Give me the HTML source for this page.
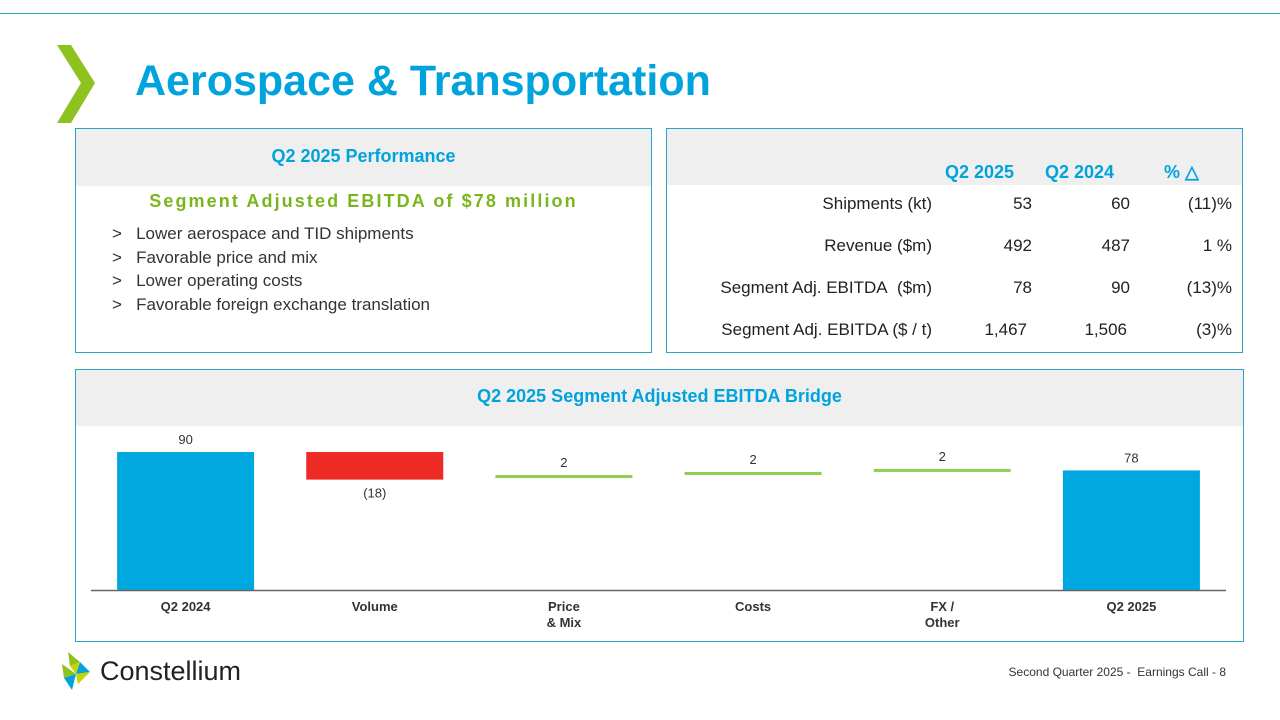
<!DOCTYPE html>
<html><head><meta charset="utf-8"><style>
body{margin:0;width:1280px;height:720px;position:relative;background:#fff;font-family:"Liberation Sans",sans-serif;overflow:hidden}
.a{position:absolute}
.panel{position:absolute;border:1px solid #2aa6c4;box-sizing:border-box}
.grey{position:absolute;background:#efefef}
.r{text-align:right;color:#222;font-size:17px}
.bl{font-size:17px;color:#333}
</style></head><body>
<div class="a" style="left:0;top:13px;width:1280px;height:1px;background:#2aa6c4"></div>
<svg class="a" style="left:55px;top:45px" width="45" height="80"><polygon points="2,0 16,0 40,38 16,78 2,78 26,38" fill="#8dc21f"/></svg>
<div class="a" style="left:135px;top:57px;font-size:43px;font-weight:bold;color:#00a3dc">Aerospace &amp; Transportation</div>

<div class="panel" style="left:75px;top:128px;width:577px;height:225px">
<div class="grey" style="left:0;top:0;width:575px;height:57px"></div>
<div class="a" style="left:0;width:575px;top:17px;text-align:center;font-size:18px;font-weight:bold;color:#00a3dc">Q2 2025 Performance</div>
<div class="a" style="left:0;width:575px;top:62px;text-align:center;font-size:18px;font-weight:bold;color:#7ab51d;letter-spacing:2.1px">Segment Adjusted EBITDA of $78 million</div>
<div class="a bl" style="left:36px;top:93px;line-height:23.7px">
<div>&gt;&nbsp;&nbsp; Lower aerospace and TID shipments</div>
<div>&gt;&nbsp;&nbsp; Favorable price and mix</div>
<div>&gt;&nbsp;&nbsp; Lower operating costs</div>
<div>&gt;&nbsp;&nbsp; Favorable foreign exchange translation</div></div>
</div>

<div class="panel" style="left:666px;top:128px;width:577px;height:225px">
<div class="grey" style="left:0;top:0;width:575px;height:56px"></div>
<div class="a" style="left:278px;top:33px;font-size:18px;font-weight:bold;color:#00a3dc">Q2 2025</div>
<div class="a" style="left:378px;top:33px;font-size:18px;font-weight:bold;color:#00a3dc">Q2 2024</div>
<div class="a" style="left:497px;top:33px;font-size:18px;font-weight:bold;color:#00a3dc">% △</div>
<div class="a" style="left:0;top:65px;width:575px">
<div class="a r" style="right:310px;white-space:nowrap">Shipments (kt)</div><div class="a r" style="right:210px">53</div><div class="a r" style="right:112px">60</div><div class="a r" style="right:10px">(11)%</div></div>
<div class="a" style="left:0;top:107px;width:575px">
<div class="a r" style="right:310px;white-space:nowrap">Revenue ($m)</div><div class="a r" style="right:210px">492</div><div class="a r" style="right:112px">487</div><div class="a r" style="right:10px">1 %</div></div>
<div class="a" style="left:0;top:149px;width:575px">
<div class="a r" style="right:310px;white-space:nowrap">Segment Adj. EBITDA&nbsp; ($m)</div><div class="a r" style="right:210px">78</div><div class="a r" style="right:112px">90</div><div class="a r" style="right:10px">(13)%</div></div>
<div class="a" style="left:0;top:191px;width:575px">
<div class="a r" style="right:310px;white-space:nowrap">Segment Adj. EBITDA ($ / t)</div><div class="a r" style="right:215px">1,467</div><div class="a r" style="right:115px">1,506</div><div class="a r" style="right:10px">(3)%</div></div>
</div>

<div class="panel" style="left:75px;top:369px;width:1169px;height:273px">
<div class="grey" style="left:0;top:0;width:1167px;height:56px"></div>
<div class="a" style="left:0;width:1167px;top:16px;text-align:center;font-size:18px;font-weight:bold;color:#00a3dc">Q2 2025 Segment Adjusted EBITDA Bridge</div>
</div>
<svg id="chart" class="a" style="left:0;top:0" width="1280" height="720"></svg>

<svg class="a" style="left:58px;top:652px" width="36" height="40">
<polygon points="10,0 22,10 12,14" fill="#8dc21f"/><polygon points="22,10 32,20 18,22" fill="#00a3dc"/><polygon points="4,12 18,22 6,26" fill="#8dc21f"/><polygon points="12,14 22,10 18,22" fill="#c8d400"/><polygon points="6,26 18,22 14,38" fill="#00a3dc"/><polygon points="18,22 32,20 20,32" fill="#c8d400"/></svg>
<div class="a" style="left:100px;top:656px;font-size:27px;color:#222">Constellium</div>
<div class="a" style="right:54px;top:665px;font-size:12px;color:#333;white-space:nowrap">Second Quarter 2025 -&nbsp; Earnings Call - 8</div>

<script>
const categories=["Q2 2024","Volume","Price\n& Mix","Costs","FX /\nOther","Q2 2025"];
const values=[90,-18,2,2,2,78];
const types=["total","delta","delta","delta","delta","total"];
const labels=["90","(18)","2","2","2","78"];
const svg=document.getElementById('chart');
const NS="http://www.w3.org/2000/svg";
const y0=590,scale=1.533,left=91,right=1226;
const y=v=>y0-v*scale;
const step=(right-left)/categories.length;
const xc=i=>left+step*(i+0.5);
const bw=137;
function mk(t,a){const e=document.createElementNS(NS,t);for(const k in a)e.setAttribute(k,a[k]);svg.appendChild(e);return e;}
let run=0;
categories.forEach((c,i)=>{
 const v=values[i];let top,bot,fill,lbl;
 if(types[i]==="total"){top=y(v);bot=y0;fill="#00a8e0";run=v;lbl=top-8;}
 else{const s=run,e=run+v;run=e;
   if(v<0){top=y(s);bot=y(e);fill="#ee2a24";lbl=bot+18;}
   else{top=y(e)-1.5;bot=y(e)+1.5;fill="#8fd14f";lbl=top-8;}}
 const r=mk('rect',{x:xc(i)-bw/2,y:top,width:bw,height:bot-top,fill:fill});
 
 
 const t=mk('text',{x:xc(i),y:lbl,'text-anchor':'middle','font-size':13,fill:'#333','font-family':'Liberation Sans'});
 t.textContent=labels[i];
 
 
 c.split("\n").forEach((ln,j)=>{
  const tt=mk('text',{x:xc(i),y:611+j*16,'text-anchor':'middle','font-size':13,'font-weight':'bold',fill:'#333','font-family':'Liberation Sans'});
  tt.textContent=ln;
  
  
 });
});
const ax=mk('line',{x1:left,x2:right,y1:y0+0.5,y2:y0+0.5,stroke:'#666','stroke-width':1.5});


</script>
</body></html>
